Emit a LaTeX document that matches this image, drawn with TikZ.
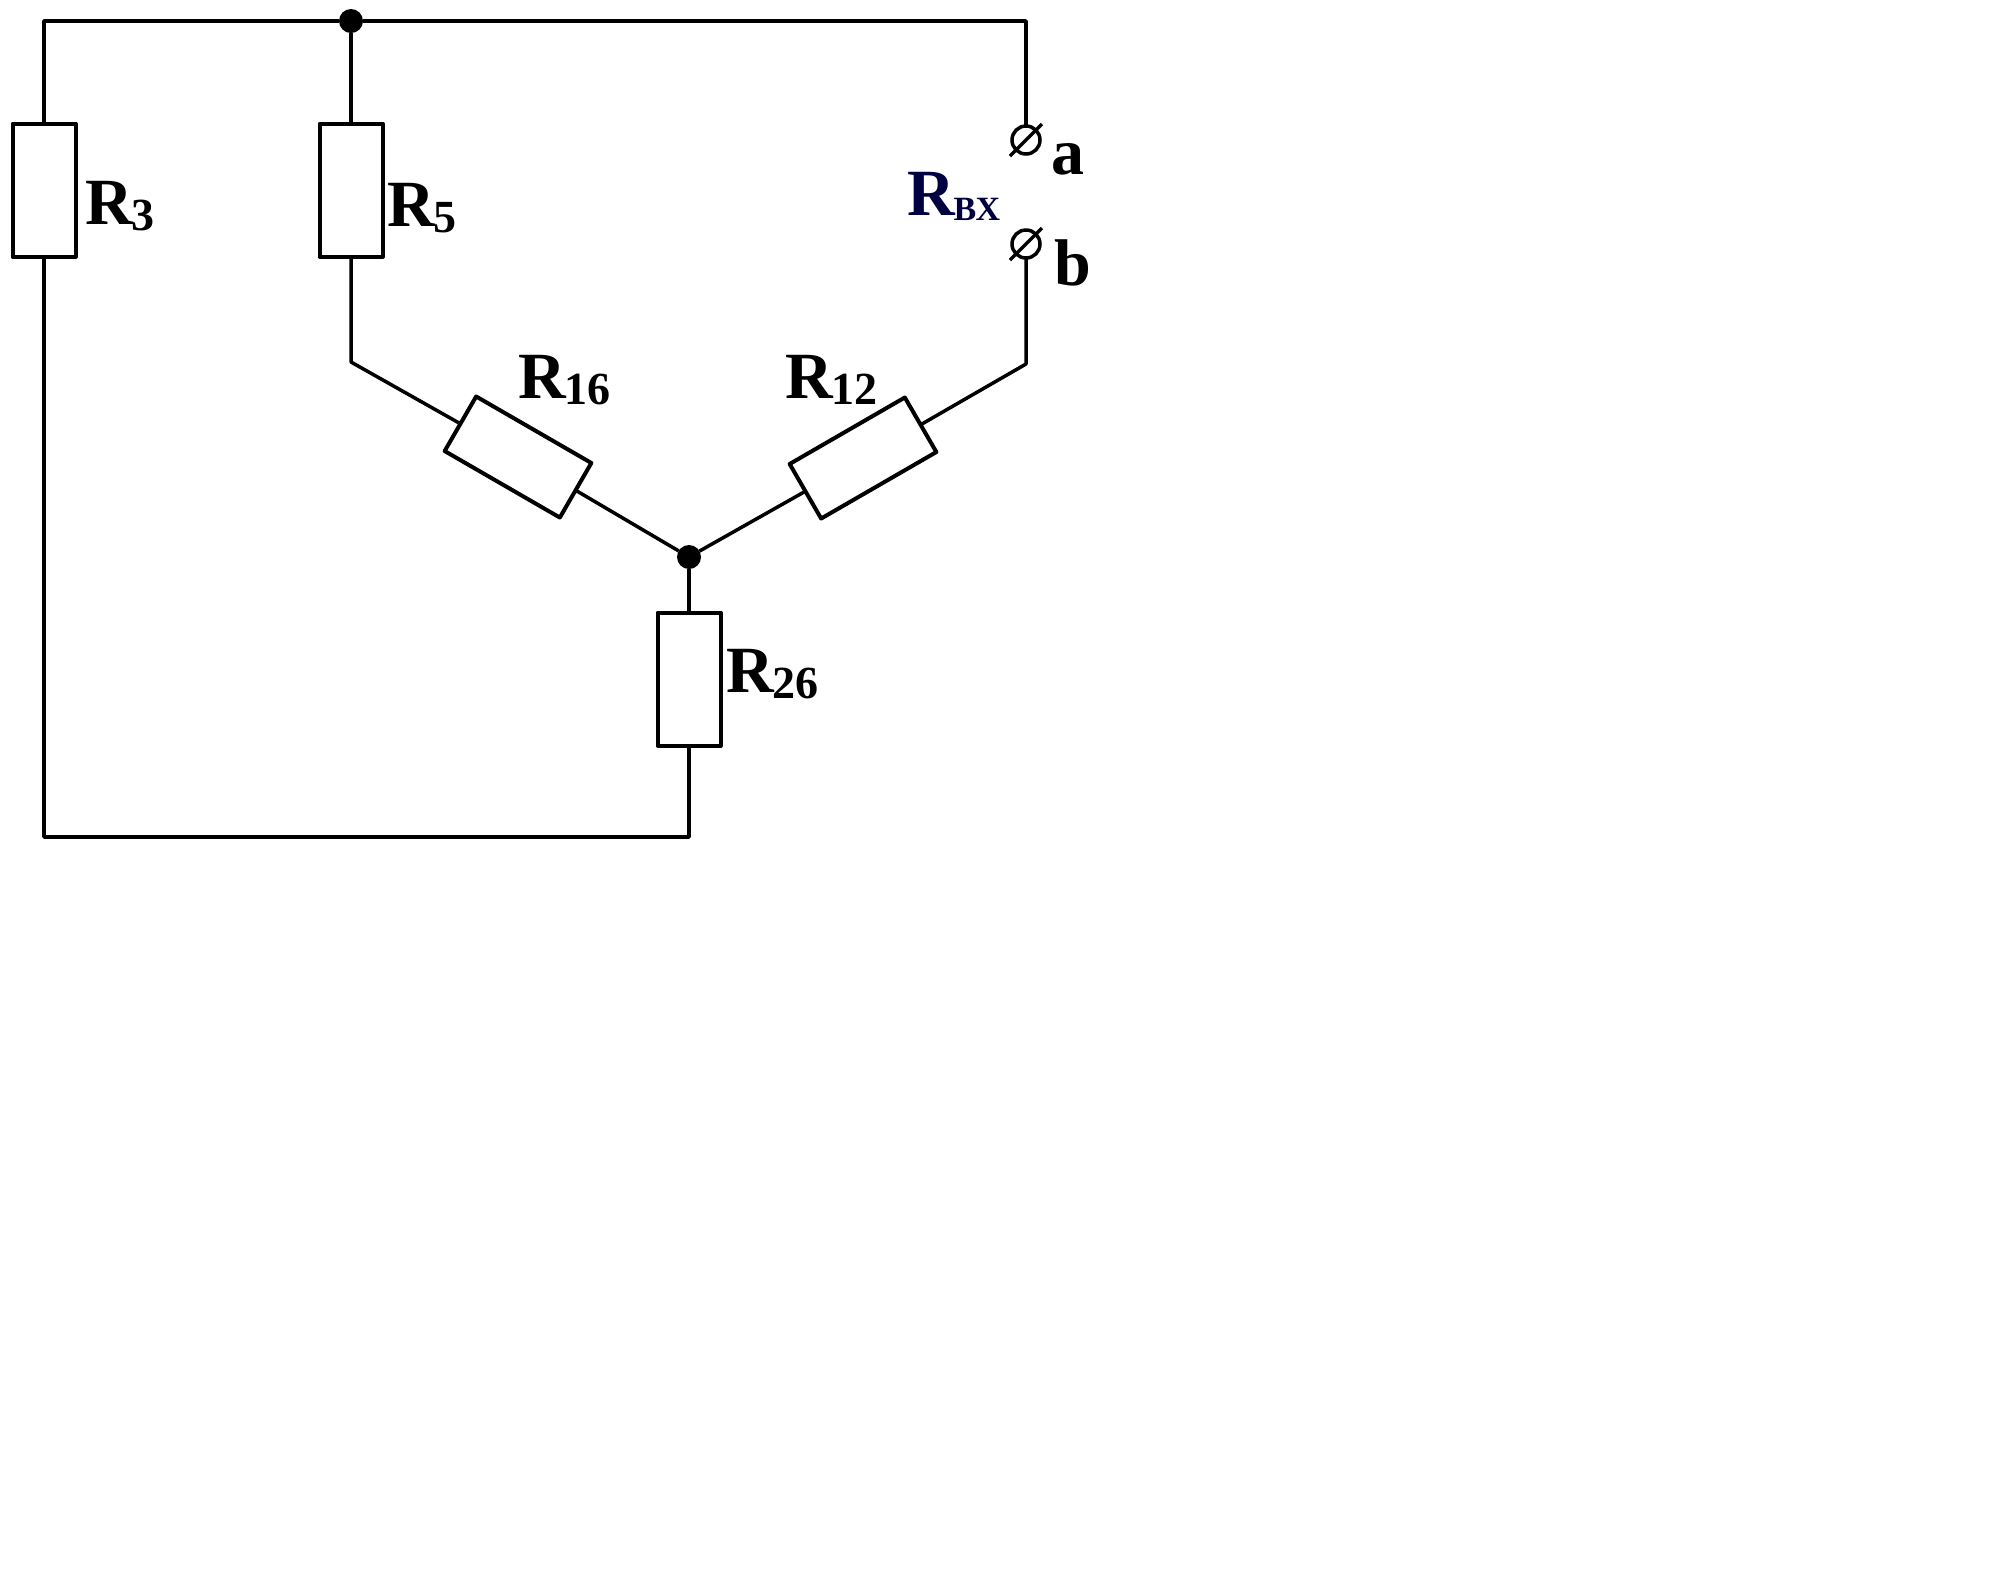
\documentclass[tikz,border=0pt]{standalone}
\usepackage{fontspec}
\setmainfont{Liberation Serif}
\newcommand{\bigfont}{\fontsize{33}{33}\bfseries\selectfont}
\newcommand{\subfont}{\fontsize{23}{23}\bfseries\selectfont}
\newcommand{\Rlabel}[1]{R\kern-0.5pt\raisebox{-3pt}{\subfont #1}}
\tikzset{
  wire/.style={line width=1.75pt,line join=round},
  resbox/.style={draw,line width=2pt,line join=round,fill=white,inner sep=0,outer sep=0,minimum width=66.5pt,minimum height=31.5pt},
  joint/.style={circle,fill=black,inner sep=0,outer sep=0,minimum size=12pt},
  term/.style={circle,draw,line width=1.75pt,inner sep=0,outer sep=0,minimum size=14pt},
  lbl/.style={anchor=base west,inner sep=0,outer sep=0,font=\bigfont},
}
\begin{document}
\begin{tikzpicture}[x=0.5pt,y=-0.5pt]
      \useasboundingbox (0,0) rectangle (2010,1587);
      % resistors
      \node[resbox,rotate=90] (r3) at (44,190) {};
      \node[resbox,rotate=90] (r5) at (351,190) {};
      \node[resbox,rotate=-30] (r16) at (518,457) {};
      \node[resbox,rotate=30] (r12) at (863,458) {};
      \node[resbox,rotate=90] (r26) at (689,679) {};
      % joints, terminals
      \node[joint] (j1) at (351,21) {};
      \node[joint] (j2) at (689,557) {};
      \node[term] (ta) at (1026,140) {};
      \node[term] (tb) at (1026,244) {};
      \coordinate (c1) at (44,21);
      \coordinate (c2) at (1026,21);
      \coordinate (c3) at (44,837);
      \coordinate (c4) at (689,837);
      \coordinate (c5) at (351,362);
      \coordinate (c6) at (1026,364);
      % wires
      \draw[wire] (r3.east) -- (c1) -- (j1) -- (c2) -- (ta.north);
      \draw[wire] (j1) -- (r5.east);
      \draw[wire] (r5.west) -- (c5) -- (r16.west);
      \draw[wire] (r16.east) -- (j2) -- (r12.west);
      \draw[wire] (r12.east) -- (c6) -- (tb.south);
      \draw[wire] (j2) -- (r26.east);
      \draw[wire] (r3.west) -- (c3) -- (c4) -- (r26.west);
      \foreach \t in {ta,tb}
        \draw[wire] ([shift={(-16,16)}]\t.center) -- ([shift={(16,-16)}]\t.center);
      % labels
      \node[lbl] (l3) at (85,224) {\Rlabel{3}};
      \node[lbl] (l5) at (387,226) {\Rlabel{5}};
      \node[lbl] (l16) at (518,398) {\Rlabel{16}};
      \node[lbl] (l12) at (785,398) {\Rlabel{12}};
      \node[lbl] (l26) at (726,692) {\Rlabel{26}};
      \node[lbl,text={rgb,255:red,0;green,0;blue,64}] (lbx) at (907,215) {R\kern-0.5pt\raisebox{-2.5pt}{\fontsize{17}{17}\bfseries\selectfont ВХ}};
      \node[lbl] (la) at (1051,174) {a};
      \node[lbl] (lb) at (1054,285) {b};
    \end{tikzpicture}
\end{document}
